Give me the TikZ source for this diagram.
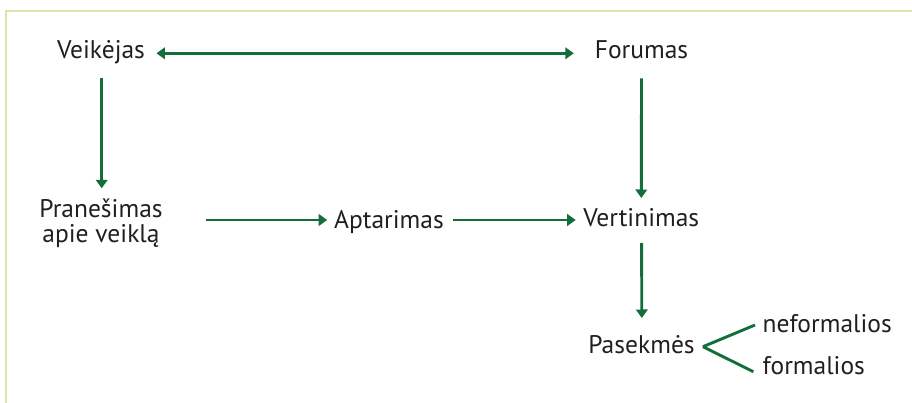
\documentclass[tikz,border=0pt]{standalone}
\usepackage{fontspec}
\setmainfont{PT Sans}
\usetikzlibrary{arrows.meta}
\definecolor{lineg}{HTML}{146E3C}
\definecolor{txt}{HTML}{231F20}
\definecolor{frame}{HTML}{DDE5A8}
\tikzset{
  lbl/.style={inner sep=0pt, outer sep=0pt, text=txt, font=\fontsize{25.5}{25.4}\selectfont, anchor=base},
  arr/.style={draw=lineg, line width=2.9pt, -{Triangle[width=11.5pt,length=8.5pt]}},
  darr/.style={draw=lineg, line width=2.9pt, {Triangle[width=11.5pt,length=8.5pt]}-{Triangle[width=11.5pt,length=8.5pt]}},
  plain/.style={draw=lineg, line width=2.9pt},
}
\begin{document}
\begin{tikzpicture}[x=1pt,y=-1pt]
\useasboundingbox (0,0) rectangle (912,403);
\fill[white] (0,0) rectangle (912,403);
\draw[frame, line width=2.3pt] (6.2,403) -- (6.2,11.2) -- (912,11.2);
% nodes
\node[lbl] (veik) at (101,58.3) {Veikėjas};
\node[lbl] (forum) at (641.5,58.3) {Forumas};
\node[lbl, align=center] (pran) at (101,242.7) {Pranešimas\\apie veiklą};
\node[lbl] (apt) at (389,228.3) {Aptarimas};
\node[lbl] (vert) at (641.3,226.7) {Vertinimas};
\node[lbl] (pase) at (641.5,353.3) {Pasekmės};
\node[lbl, anchor=base west] (nef) at (762.7,332.3) {neformalios};
\node[lbl, anchor=base west] (form) at (762.7,374) {formalios};
% connectors
\draw[darr] ([shift={(11.5,-5)}]veik.base east) -- ([shift={(-21,-5)}]forum.base west);
\draw[arr] ([shift={(0.7,20)}]veik.base) -- ([shift={(0.7,-54.4)}]pran.base);
\draw[arr] ([shift={(0,20.2)}]forum.base) -- ([shift={(0,-28.7)}]vert.base);
\draw[arr] ([shift={(0.3,16.3)}]vert.base) -- ([shift={(0.3,-35.3)}]pase.base);
\draw[arr] ([shift={(43.3,-22.7)}]pran.base east) -- ([shift={(-7,-8.3)}]apt.base west);
\draw[arr] ([shift={(9,-8.3)}]apt.base east) -- ([shift={(-7.7,-6.7)}]vert.base west);
\draw[plain] ([shift={(8.3,-6.6)}]pase.base east) -- ([shift={(-7.7,-7.3)}]nef.base west);
\draw[plain] ([shift={(8.3,-6.6)}]pase.base east) -- ([shift={(-9.4,-2.3)}]form.base west);
\end{tikzpicture}
\end{document}
